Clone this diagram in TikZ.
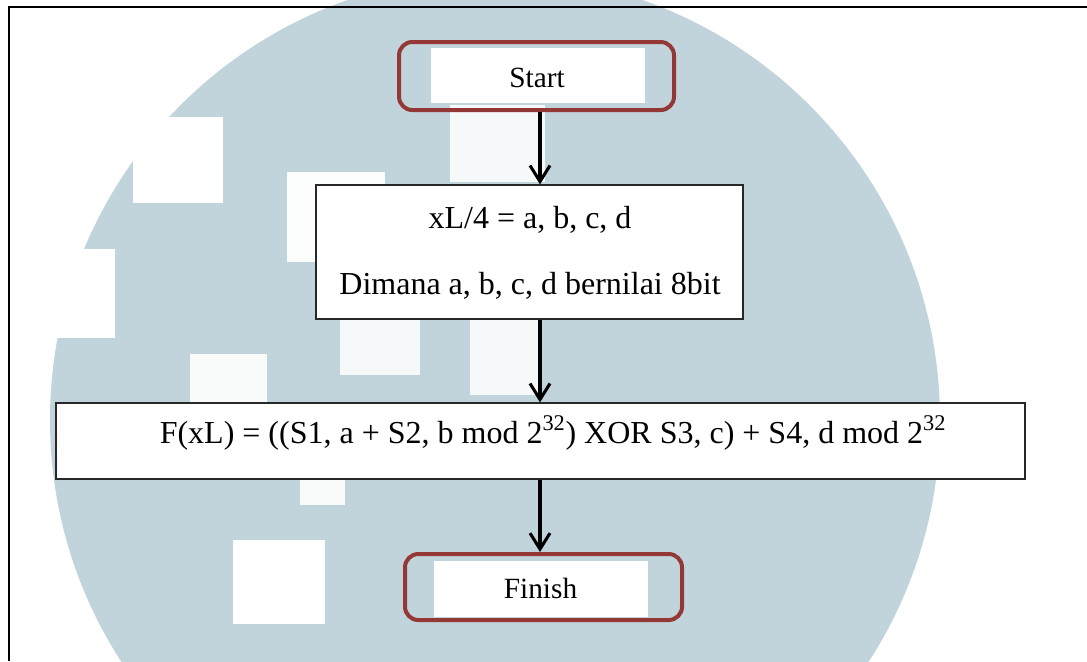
\documentclass[tikz,border=0pt]{standalone}
\usepackage{fontspec}
\setmainfont{Liberation Serif}
\usetikzlibrary{arrows.meta}
\definecolor{wm}{RGB}{193,212,219}
\definecolor{rbord}{RGB}{148,56,54}
\definecolor{boxline}{RGB}{40,40,40}
\begin{document}
\begin{tikzpicture}[x=0.75pt,y=-0.75pt,
  procbox/.style={draw=boxline, line width=0.9pt, fill=white, inner sep=0pt},
  termbox/.style={draw=rbord, line width=3pt, rounded corners=10pt, inner sep=0pt},
  arr/.style={-{Straight Barb[length=12pt,width=15pt]}, line width=2.3pt},
  txtbig/.style={font=\fontsize{24}{29}\selectfont, inner sep=0pt, anchor=base},
  txtsm/.style={font=\fontsize{22}{26}\selectfont, inner sep=0pt, anchor=base}]
\useasboundingbox (0,0) rectangle (1087,661);
% watermark
\begin{scope}
  \clip (0,0) rectangle (1087,661);
  \fill[wm] (495,420) circle [radius=445];
  \fill[white] (133,117) rectangle (223,203);
  \fill[white] (40,249) rectangle (115,338);
  \fill[white!95!wm] (287,172) rectangle (385,262);
  \fill[white!85!wm] (450,105) rectangle (545,182);
  \fill[white!85!wm] (340,319) rectangle (420,375);
  \fill[white!85!wm] (470,319) rectangle (540,395);
  \fill[white!90!wm] (190,354) rectangle (267,403);
  \fill[white!90!wm] (300,479) rectangle (345,505);
  \fill[white] (233,540) rectangle (325,624);
\end{scope}
% frame
\draw[line width=1.5pt] (9,661) -- (9,7) -- (1087,7);
% terminals
\node[termbox, minimum width=206.25pt, minimum height=51pt] (start) at (536.5,76) {};
\fill[white] (431,48) rectangle (645,103);
\node[txtsm] (tstart) at (537,87) {Start};
\node[termbox, minimum width=207.75pt, minimum height=49.5pt] (finish) at (543.5,587) {};
\fill[white] (434,561) rectangle (648,617);
\node[txtsm] (tfinish) at (540.5,598) {Finish};
% process boxes
\node[procbox, minimum width=320.25pt, minimum height=100.5pt] (proc1) at (529.5,252) {};
\node[txtbig] (p1a) at (530,228) {xL/4 = a, b, c, d};
\node[txtbig] (p1b) at (530,294) {Dimana a, b, c, d bernilai 8bit};
\node[procbox, minimum width=726.75pt, minimum height=57pt] (proc2) at (540.5,441) {};
\node[txtbig] (p2) at (553,443) {F(xL) = ((S1, a + S2, b mod 2\textsuperscript{32}) XOR S3, c) + S4, d mod 2\textsuperscript{32}};
% connectors
\coordinate (ax) at (540,0);
\draw[arr] (start.south -| ax) -- (proc1.north -| ax);
\draw[arr] (proc1.south -| ax) -- (proc2.north -| ax);
\draw[arr] (proc2.south -| ax) -- (finish.north -| ax);
\end{tikzpicture}
\end{document}
